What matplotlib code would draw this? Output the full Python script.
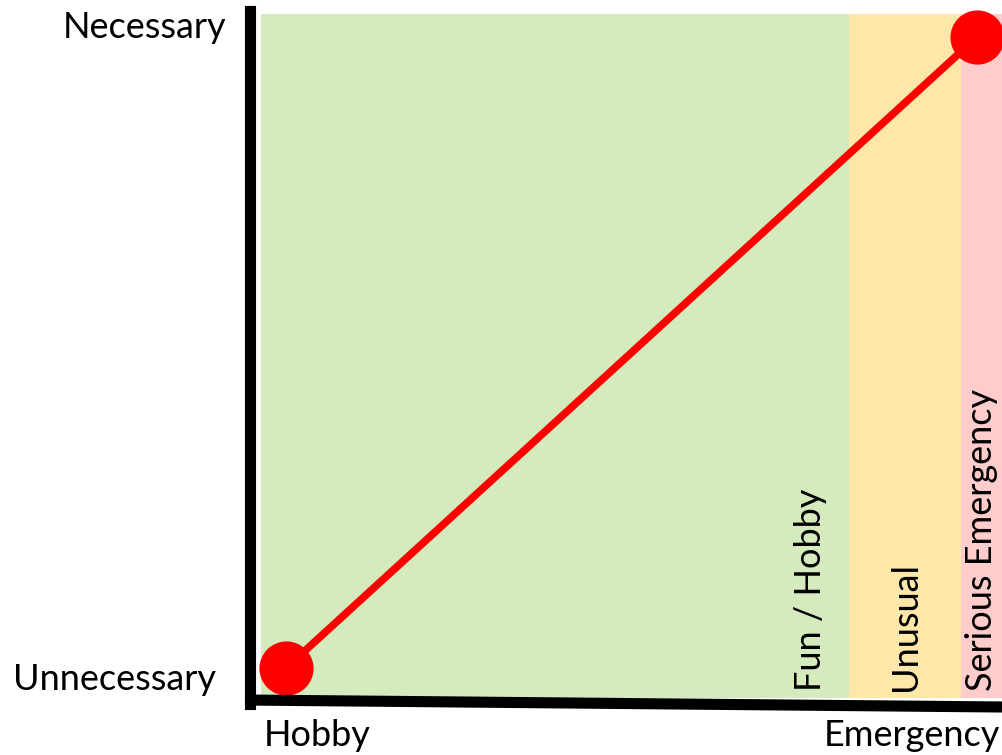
import matplotlib.pyplot as plt
from matplotlib.lines import Line2D

plt.rcParams['font.family'] = ['Lato', 'DejaVu Sans']

# end points of the scale (Hobby/Unnecessary -> Emergency/Necessary)
line_x = [1.0, 29.0]
line_y = [1.3, 29.0]

# background bands: label, start, end, colour
band_labels = ["Fun / Hobby", "Unusual", "Serious Emergency"]
band_start = [0.0, 23.8, 28.35]
band_end = [23.8, 28.35, 30.0]
band_colors = ["#d5ebbe", "#ffe6a9", "#ffcccc"]

x_labels = ["Hobby", "Emergency"]
y_labels = ["Unnecessary", "Necessary"]

fig = plt.figure(figsize=(10.02, 7.55), dpi=100)
W, H = 1002, 755
# plot area in pixels: x 261..1002, y 14..698 (top-down)
ax = fig.add_axes([261 / W, (H - 698) / H, (1002 - 261) / W, (698 - 14) / H])
ax.set_xlim(0, 30)
ax.set_ylim(0, 30)
ax.axis('off')

for i, (lab, s, e, c) in enumerate(zip(band_labels, band_start, band_end, band_colors)):
    ax.axvspan(s, e, color=c, zorder=0, lw=0)
    # first label hugs the right edge of its band, the others are centred
    tx = e - 1.55 if i == 0 else (s + e) / 2
    ax.text(tx, 0.3, lab, rotation=90, ha='center', va='bottom',
            fontsize=26, color='black')

ax.plot(line_x, line_y, color='#ff0000', lw=5.5, zorder=3, clip_on=False,
        marker='o', markersize=38, solid_capstyle='butt')

# axis lines (drawn slightly off, hand-drawn look)
fig.add_artist(Line2D([249.5 / W, 249.5 / W], [(H - 11) / H, (H - 704) / H],
                      color='black', lw=8, transform=fig.transFigure))
fig.add_artist(Line2D([245 / W, 1002 / W], [(H - 700) / H, (H - 707) / H],
                      color='black', lw=8, transform=fig.transFigure,
                      solid_capstyle='butt'))

fig.text(226 / W, (H - 28) / H, y_labels[1], ha='right', va='center', fontsize=26)
fig.text(216 / W, (H - 679) / H, y_labels[0], ha='right', va='center', fontsize=26)
fig.text(317 / W, (H - 735) / H, x_labels[0], ha='center', va='center', fontsize=26)
fig.text(1000 / W, (H - 735) / H, x_labels[1], ha='right', va='center', fontsize=26)

fig.savefig('out.png', dpi=100)
